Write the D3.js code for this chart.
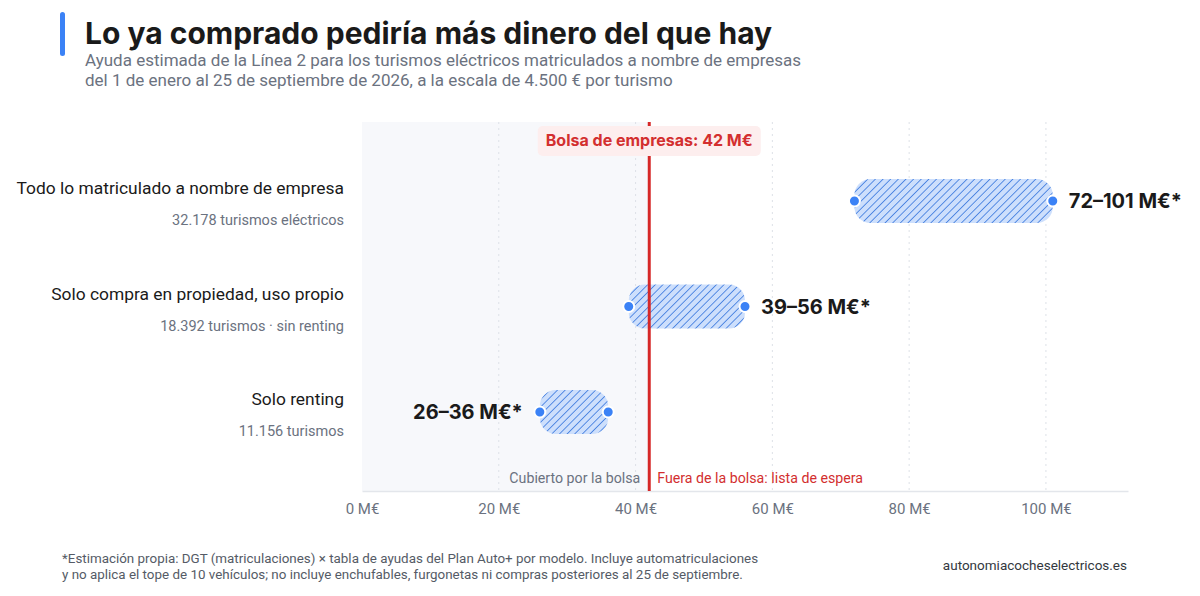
<!DOCTYPE html>
<html lang="es">
<head>
    <meta charset="UTF-8">
    <title>Lo ya comprado pediría más dinero del que hay</title>
    <script src="https://d3js.org/d3.v7.min.js"></script>
    <style>
        body {
            margin: 0;
            background: #ffffff;
            font-family: Roboto, "Noto Sans", sans-serif;
        }
        svg { display: block; }
    </style>
</head>
<body>
    <div id="chart"></div>

    <script>
        // datos
        const categories = [
            "Todo lo matriculado a nombre de empresa",
            "Solo compra en propiedad, uso propio",
            "Solo renting"
        ];
        const subLabels = [
            "32.178 turismos eléctricos",
            "18.392 turismos · sin renting",
            "11.156 turismos"
        ];
        const lowValues = [72, 39, 26];
        const highValues = [101, 56, 36];
        const bolsa = 42;
        const xTicks = [0, 20, 40, 60, 80, 100];

        const width = 1200, height = 596;
        const margin = { top: 122, right: 72, bottom: 105, left: 362 };

        const svg = d3.select("#chart").append("svg")
            .attr("width", width)
            .attr("height", height);

        // patrón rayado para las barras
        const defs = svg.append("defs");
        const pat = defs.append("pattern")
            .attr("id", "hatch")
            .attr("patternUnits", "userSpaceOnUse")
            .attr("width", 5.4)
            .attr("height", 5.4)
            .attr("patternTransform", "rotate(45)");
        pat.append("rect").attr("width", 5.4).attr("height", 5.4).attr("fill", "#cddffc");
        pat.append("line")
            .attr("x1", 0).attr("y1", 0).attr("x2", 0).attr("y2", 5.4)
            .attr("stroke", "#3a78de").attr("stroke-width", 1.6);

        const x = d3.scaleLinear()
            .domain([0, 112])
            .range([margin.left, width - margin.right]);

        const plotTop = margin.top;
        const plotBottom = height - margin.bottom;

        const y = d3.scaleBand()
            .domain(categories)
            .range([plotTop, plotBottom])
            .paddingInner(0.583)
            .paddingOuter(0.54);

        // cabecera
        svg.append("rect")
            .attr("x", 60).attr("y", 12)
            .attr("width", 5).attr("height", 44)
            .attr("rx", 2.5)
            .attr("fill", "#3b82f6");

        svg.append("text")
            .attr("x", 85).attr("y", 44)
            .style("font-family", "Inter, sans-serif")
            .style("font-size", "30px")
            .style("font-weight", 700)
            .style("fill", "#1a1a1a")
            .text("Lo ya comprado pediría más dinero del que hay");

        const subtitle = [
            "Ayuda estimada de la Línea 2 para los turismos eléctricos matriculados a nombre de empresas",
            "del 1 de enero al 25 de septiembre de 2026, a la escala de 4.500 € por turismo"
        ];
        svg.selectAll(".subtitle")
            .data(subtitle)
            .join("text")
            .attr("class", "subtitle")
            .attr("x", 85)
            .attr("y", (d, i) => 66 + i * 20)
            .style("font-size", "17px")
            .style("fill", "#6b7280")
            .text(d => d);

        // zona cubierta por la bolsa
        svg.append("rect")
            .attr("x", x(0))
            .attr("y", plotTop)
            .attr("width", x(bolsa) - x(0))
            .attr("height", plotBottom - plotTop)
            .attr("fill", "#f7f8fb");

        // rejilla
        svg.selectAll(".grid")
            .data(xTicks.filter(d => d > 0))
            .join("line")
            .attr("class", "grid")
            .attr("x1", d => x(d)).attr("x2", d => x(d))
            .attr("y1", plotTop).attr("y2", plotBottom)
            .attr("stroke", "#dde1e7")
            .attr("stroke-width", 1)
            .attr("stroke-dasharray", "2,4");

        // eje x
        const xAxis = svg.append("g")
            .attr("transform", `translate(0,${plotBottom})`)
            .call(d3.axisBottom(x).tickValues(xTicks).tickSize(0).tickPadding(12).tickFormat(d => d + " M€"));
        xAxis.select(".domain").attr("stroke", "#e3e6eb").attr("stroke-width", 1.5);
        xAxis.selectAll("text")
            .style("font-family", "Roboto, sans-serif")
            .style("font-size", "15px")
            .style("fill", "#6b7280");

        // barras
        const rows = categories.map((c, i) => ({
            cat: c, sub: subLabels[i], lo: lowValues[i], hi: highValues[i], i: i
        }));

        svg.selectAll(".bar")
            .data(rows)
            .join("rect")
            .attr("class", "bar")
            .attr("x", d => x(d.lo))
            .attr("y", d => y(d.cat))
            .attr("width", d => x(d.hi) - x(d.lo))
            .attr("height", y.bandwidth())
            .attr("rx", 16)
            .attr("fill", "url(#hatch)");

        // línea de la bolsa
        svg.append("line")
            .attr("x1", x(bolsa)).attr("x2", x(bolsa))
            .attr("y1", plotTop).attr("y2", plotBottom)
            .attr("stroke", "#d62828")
            .attr("stroke-width", 3);

        // extremos
        const ends = rows.flatMap(d => [{ cat: d.cat, v: d.lo }, { cat: d.cat, v: d.hi }]);
        svg.selectAll(".dot")
            .data(ends)
            .join("circle")
            .attr("class", "dot")
            .attr("cx", d => x(d.v))
            .attr("cy", d => y(d.cat) + y.bandwidth() / 2)
            .attr("r", 5.5)
            .attr("fill", "#3b82f6")
            .attr("stroke", "#ffffff")
            .attr("stroke-width", 2);

        // etiquetas de valor
        svg.selectAll(".val")
            .data(rows)
            .join("text")
            .attr("class", "val")
            .attr("x", d => d.hi < bolsa ? x(d.lo) - 17 : x(d.hi) + 16)
            .attr("y", d => y(d.cat) + y.bandwidth() / 2 + 7)
            .attr("text-anchor", d => d.hi < bolsa ? "end" : "start")
            .style("font-family", "Inter, sans-serif")
            .style("font-size", "20px")
            .style("font-weight", 700)
            .style("fill", "#1a1a1a")
            .text(d => `${d.lo}–${d.hi} M€*`);

        // etiquetas de categoría
        svg.selectAll(".cat")
            .data(rows)
            .join("text")
            .attr("class", "cat")
            .attr("x", 344)
            .attr("y", d => y(d.cat) + y.bandwidth() / 2 - 7)
            .attr("text-anchor", "end")
            .style("font-size", "17.4px")
            .style("fill", "#1a1a1a")
            .text(d => d.cat);

        svg.selectAll(".sub")
            .data(rows)
            .join("text")
            .attr("class", "sub")
            .attr("x", 344)
            .attr("y", d => y(d.cat) + y.bandwidth() / 2 + 24)
            .attr("text-anchor", "end")
            .style("font-size", "14.5px")
            .style("fill", "#6b7280")
            .text(d => d.sub);

        // etiqueta de la bolsa
        const bolsaLabel = svg.append("g");
        const bolsaText = bolsaLabel.append("text")
            .attr("x", x(bolsa))
            .attr("y", 146)
            .attr("text-anchor", "middle")
            .style("font-family", "Inter, sans-serif")
            .style("font-size", "16px")
            .style("font-weight", 700)
            .style("fill", "#d32f2f")
            .text(`Bolsa de empresas: ${bolsa} M€`);
        const bb = bolsaText.node().getBBox();
        bolsaLabel.insert("rect", "text")
            .attr("x", bb.x - 8)
            .attr("y", 126)
            .attr("width", bb.width + 16)
            .attr("height", 30)
            .attr("rx", 5)
            .attr("fill", "#fdeeee");

        svg.append("text")
            .attr("x", x(bolsa) - 9)
            .attr("y", 483)
            .attr("text-anchor", "end")
            .style("font-size", "14.2px")
            .style("fill", "#6b7280")
            .text("Cubierto por la bolsa");

        svg.append("text")
            .attr("x", x(bolsa) + 8)
            .attr("y", 483)
            .style("font-size", "14.2px")
            .style("fill", "#d32f2f")
            .text("Fuera de la bolsa: lista de espera");

        // pie
        const foot = [
            "*Estimación propia: DGT (matriculaciones) × tabla de ayudas del Plan Auto+ por modelo. Incluye automatriculaciones",
            "y no aplica el tope de 10 vehículos; no incluye enchufables, furgonetas ni compras posteriores al 25 de septiembre."
        ];
        svg.selectAll(".foot")
            .data(foot)
            .join("text")
            .attr("class", "foot")
            .attr("x", 62)
            .attr("y", (d, i) => 563 + i * 16)
            .style("font-size", "13.4px")
            .style("fill", "#555b66")
            .text(d => d);

        svg.append("text")
            .attr("x", 1127)
            .attr("y", 570)
            .attr("text-anchor", "end")
            .style("font-size", "13.5px")
            .style("fill", "#333840")
            .text("autonomiacocheselectricos.es");
    </script>
</body>
</html>
